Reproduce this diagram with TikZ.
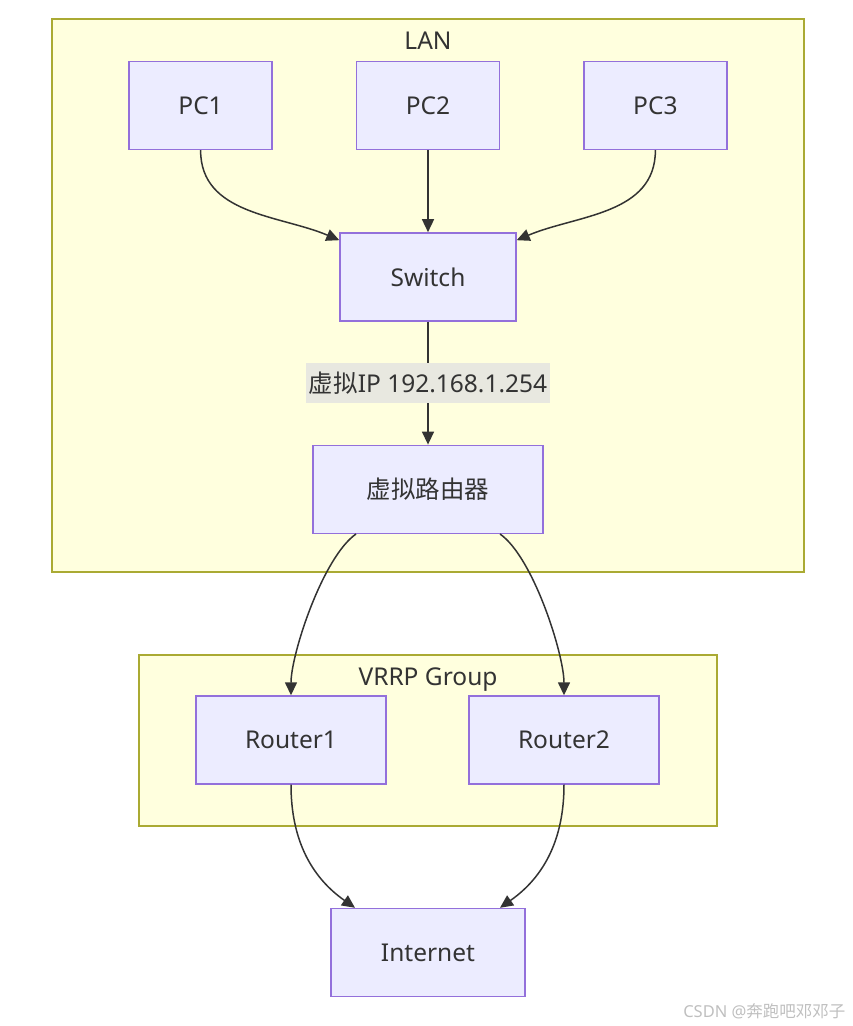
\documentclass[tikz,border=0pt]{standalone}
\usepackage{fontspec}
\setmainfont{Noto Sans}
\newfontfamily\cjk{Noto Sans CJK SC}
\usetikzlibrary{
  arrows.meta,
  positioning
}
\definecolor{nodefill}{HTML}{ECECFF}
\definecolor{nodeline}{HTML}{9370DB}
\definecolor{clusterfill}{HTML}{FFFFDE}
\definecolor{clusterline}{HTML}{AAAA33}
\definecolor{edgecol}{HTML}{333333}
\definecolor{labelbg}{HTML}{E8E8E0}

\begin{document}
\begin{tikzpicture}[
  x=1pt, y=1pt,
  box/.style={draw=nodeline, fill=nodefill, line width=1.4pt, minimum width=143pt, minimum height=88pt, inner sep=0pt, text=edgecol, font=\fontsize{24.5}{28}\selectfont},
  cluster/.style={draw=clusterline, fill=clusterfill, line width=1.4pt, inner sep=0pt},
  title/.style={text=edgecol, font=\fontsize{24.5}{28}\selectfont},
  elabel/.style={fill=labelbg, text=edgecol, inner xsep=3pt, minimum height=40pt, font=\fontsize{24.5}{28}\selectfont},
  arrow/.style={-{Triangle[length=13pt,width=12pt]}, line width=1.5pt, draw=edgecol}
]
\useasboundingbox (0,0) rectangle (852,1026);

% subgraphs
\node[cluster, minimum width=752pt, minimum height=553pt] (lan) at (428,730.5) {};
\node[title, below=10pt of lan.north] (lantitle) {LAN};
\node[cluster, minimum width=578pt, minimum height=171pt] (vrrp) at (428,285.5) {};
\node[title, below=10pt of vrrp.north] (vrrptitle) {VRRP Group};

% hosts and switch
\node[box] (pc2) at (428,920.5) {PC2};
\node[box, left=83pt of pc2] (pc1) {PC1};
\node[box, right=83pt of pc2] (pc3) {PC3};
\node[box, minimum width=176pt, below=82pt of pc2] (sw) {Switch};
\node[box, minimum width=230pt, below=123pt of sw] (vr) {{\cjk 虚拟路由器}};

% routers
\node[box, minimum width=190pt] (r1) at (291,286) {Router1};
\node[box, minimum width=190pt] (r2) at (564,286) {Router2};
\node[box, minimum width=194pt] (inet) at (428,73.5) {Internet};

\draw[arrow] (pc1.south) to[out=-90, in=157] ([yshift=-8pt]sw.north west);
\draw[arrow] (pc2) -- (sw);
\draw[arrow] (pc3.south) to[out=-90, in=23] ([yshift=-8pt]sw.north east);
\draw[arrow] (sw) -- node[elabel] (viplabel) {{\cjk 虚拟}IP 192.168.1.254} (vr);
\draw[arrow] ([xshift=-72pt]vr.south) to[out=-145, in=90, looseness=0.6] (r1.north);
\draw[arrow] ([xshift=72pt]vr.south) to[out=-35, in=90, looseness=0.6] (r2.north);
\draw[arrow] (r1.south) to[out=-90, in=145] ([xshift=-73pt]inet.north);
\draw[arrow] (r2.south) to[out=-90, in=35] ([xshift=72pt]inet.north);

\node[anchor=east, text=gray!50, font=\fontsize{16.5}{19}\selectfont] (mark) at (849,15) {CSDN @{\cjk 奔跑吧邓邓子}};
\end{tikzpicture}
\end{document}
